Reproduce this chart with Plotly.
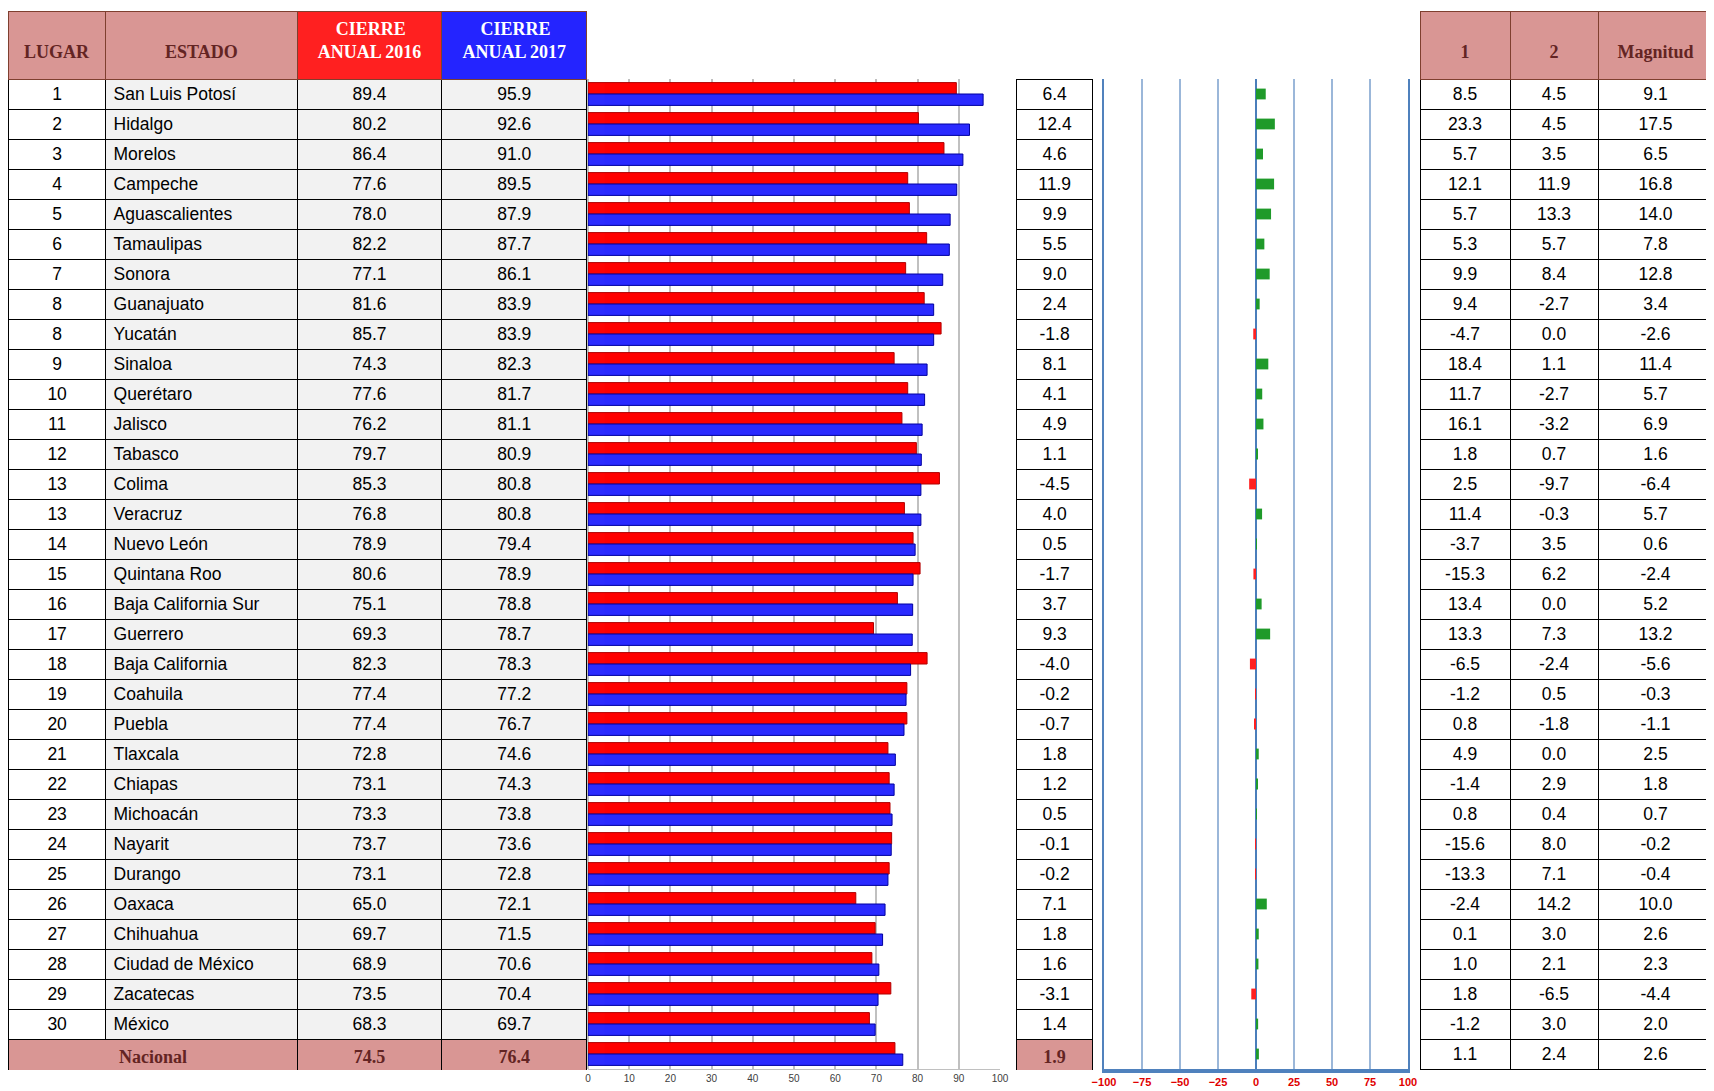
import plotly.graph_objects as go

# datos de la tabla (32 estados)
lugar = ["1", "2", "3", "4", "5", "6", "7", "8", "8", "9", "10", "11", "12", "13", "13", "14",
         "15", "16", "17", "18", "19", "20", "21", "22", "23", "24", "25", "26", "27", "28", "29", "30"]
estado = ["San Luis Potosí", "Hidalgo", "Morelos", "Campeche", "Aguascalientes", "Tamaulipas", "Sonora",
          "Guanajuato", "Yucatán", "Sinaloa", "Querétaro", "Jalisco", "Tabasco", "Colima", "Veracruz",
          "Nuevo León", "Quintana Roo", "Baja California Sur", "Guerrero", "Baja California", "Coahuila",
          "Puebla", "Tlaxcala", "Chiapas", "Michoacán", "Nayarit", "Durango", "Oaxaca", "Chihuahua",
          "Ciudad de México", "Zacatecas", "México"]
cierre_2016 = [89.4, 80.2, 86.4, 77.6, 78.0, 82.2, 77.1, 81.6, 85.7, 74.3, 77.6, 76.2, 79.7, 85.3, 76.8, 78.9,
               80.6, 75.1, 69.3, 82.3, 77.4, 77.4, 72.8, 73.1, 73.3, 73.7, 73.1, 65.0, 69.7, 68.9, 73.5, 68.3]
cierre_2017 = [95.9, 92.6, 91.0, 89.5, 87.9, 87.7, 86.1, 83.9, 83.9, 82.3, 81.7, 81.1, 80.9, 80.8, 80.8, 79.4,
               78.9, 78.8, 78.7, 78.3, 77.2, 76.7, 74.6, 74.3, 73.8, 73.6, 72.8, 72.1, 71.5, 70.6, 70.4, 69.7]
diferencia = [6.4, 12.4, 4.6, 11.9, 9.9, 5.5, 9.0, 2.4, -1.8, 8.1, 4.1, 4.9, 1.1, -4.5, 4.0, 0.5,
              -1.7, 3.7, 9.3, -4.0, -0.2, -0.7, 1.8, 1.2, 0.5, -0.1, -0.2, 7.1, 1.8, 1.6, -3.1, 1.4]
# renglon nacional
nacional = "Nacional"
nac_2016, nac_2017, nac_dif = 74.5, 76.4, 1.9
# tabla derecha (incluye renglon nacional al final)
col_1 = [8.5, 23.3, 5.7, 12.1, 5.7, 5.3, 9.9, 9.4, -4.7, 18.4, 11.7, 16.1, 1.8, 2.5, 11.4, -3.7,
         -15.3, 13.4, 13.3, -6.5, -1.2, 0.8, 4.9, -1.4, 0.8, -15.6, -13.3, -2.4, 0.1, 1.0, 1.8, -1.2, 1.1]
col_2 = [4.5, 4.5, 3.5, 11.9, 13.3, 5.7, 8.4, -2.7, 0.0, 1.1, -2.7, -3.2, 0.7, -9.7, -0.3, 3.5,
         6.2, 0.0, 7.3, -2.4, 0.5, -1.8, 0.0, 2.9, 0.4, 8.0, 7.1, 14.2, 3.0, 2.1, -6.5, 3.0, 2.4]
magnitud = [9.1, 17.5, 6.5, 16.8, 14.0, 7.8, 12.8, 3.4, -2.6, 11.4, 5.7, 6.9, 1.6, -6.4, 5.7, 0.6,
            -2.4, 5.2, 13.2, -5.6, -0.3, -1.1, 2.5, 1.8, 0.7, -0.2, -0.4, 10.0, 2.6, 2.3, -4.4, 2.0, 2.6]

W, H = 1714, 1091
OFF = 8  # margen del body en la pagina
n = len(estado)
rosa = "#d99694"
cafe = "#632423"
rojo = "#ff2020"
azul = "#2424ff"
gris = "#f2f2f2"
serif = "Liberation Serif"
sans = "Liberation Sans"
sp = "\u00a0<br>"
ind = "\u00a0" * 4  # para centrar "CIERRE" sobre "ANUAL 20xx"

def fmt(v):
    return ["{:.1f}".format(x) for x in v]

def xdom(left, right):
    return [max(0, (left - OFF) / W), min(1, (right - OFF) / W)]

def ydom(top, bottom):
    return [max(0, 1 - (bottom - OFF) / H), min(1, 1 - (top - OFF) / H)]

top_hdr, hdr_h, row_h = 11, 68, 30
top_rows = top_hdr + hdr_h
top_nac = top_rows + row_h * n
bottom_rows = top_nac + row_h

fig = go.Figure()

# tabla izquierda
fig.add_trace(go.Table(
    domain=dict(x=xdom(8.7, 587), y=ydom(top_hdr, top_nac + 2)),
    columnwidth=[97, 192, 145, 145],
    header=dict(values=[sp + "<b>LUGAR</b>", sp + "<b>ESTADO</b>",
                        ind + "<b>CIERRE</b><br><b>ANUAL 2016</b>", ind + "<b>CIERRE</b><br><b>ANUAL 2017</b>"],
                height=hdr_h, fill_color=[rosa, rosa, rojo, azul], line_color="#7f3f2f",
                font=dict(family=serif, size=18, color=[cafe, cafe, "white", "white"]), align="center"),
    cells=dict(values=[lugar, estado, fmt(cierre_2016), fmt(cierre_2017)], height=row_h,
               fill_color=["white", gris, gris, gris], line_color="black",
               font=dict(family=sans, size=17.5, color="black"),
               align=["center", "left", "center", "center"]),
))
# renglon nacional
fig.add_trace(go.Table(
    domain=dict(x=xdom(8.7, 587), y=ydom(top_nac, bottom_rows + 2)),
    columnwidth=[289, 145, 145],
    header=dict(values=["<b>" + nacional + "</b>", "<b>{:.1f}</b>".format(nac_2016),
                        "<b>{:.1f}</b>".format(nac_2017)],
                height=row_h, fill_color=rosa, line_color="black",
                font=dict(family=serif, size=18, color=cafe), align="center"),
))

# columna de diferencias
fig.add_trace(go.Table(
    domain=dict(x=xdom(1016.6, 1093), y=ydom(top_hdr, top_nac + 2)),
    header=dict(values=[""], height=hdr_h, fill_color="white", line_width=0),
    cells=dict(values=[fmt(diferencia)], height=row_h, fill_color="white", line_color="black",
               font=dict(family=sans, size=17.5, color="black"), align="center"),
))
fig.add_trace(go.Table(
    domain=dict(x=xdom(1016.6, 1093), y=ydom(top_nac, bottom_rows + 2)),
    header=dict(values=["<b>{:.1f}</b>".format(nac_dif)], height=row_h, fill_color=rosa, line_color="black",
                font=dict(family=serif, size=18, color=cafe), align="center"),
))

# tabla derecha
fig.add_trace(go.Table(
    domain=dict(x=xdom(1420, 1714), y=ydom(top_hdr, bottom_rows + 2)),
    columnwidth=[90, 88, 115],
    header=dict(values=[sp + "<b>1</b>", sp + "<b>2</b>", sp + "<b>Magnitud</b>"], height=hdr_h, fill_color=rosa,
                line_color="#7f3f2f", font=dict(family=serif, size=18, color=cafe), align="center"),
    cells=dict(values=[fmt(col_1), fmt(col_2), fmt(magnitud)], height=row_h,
               fill_color="white", line_color="black",
               font=dict(family=sans, size=17.5, color="black"), align="center"),
))

cats = estado + [nacional]
v2016 = cierre_2016 + [nac_2016]
v2017 = cierre_2017 + [nac_2017]
vdif = diferencia + [nac_dif]

# barras 2016 / 2017
fig.add_trace(go.Bar(y=cats, x=v2016, orientation="h", name="Cierre anual 2016",
                     marker=dict(color="#ff0000", line=dict(color="#b00000", width=1)),
                     xaxis="x", yaxis="y"))
fig.add_trace(go.Bar(y=cats, x=v2017, orientation="h", name="Cierre anual 2017",
                     marker=dict(color="#2a2aff", line=dict(color="#0000a0", width=1)),
                     xaxis="x", yaxis="y"))

# barras de diferencia
fig.add_trace(go.Bar(y=cats, x=vdif, orientation="h", width=0.36,
                     marker=dict(color=["#1f9a2a" if d >= 0 else "#ff2020" for d in vdif], line_width=0),
                     xaxis="x2", yaxis="y2"))

fig.update_layout(
    width=W, height=H, margin=dict(l=0, r=0, t=0, b=0, autoexpand=False),
    paper_bgcolor="white", plot_bgcolor="white", showlegend=False,
    barmode="group", bargap=0.24, bargroupgap=0,
    xaxis=dict(domain=xdom(588, 1000), range=[0, 100], dtick=10, showgrid=True,
               gridcolor="#c0c0c0", gridwidth=2, zeroline=True, zerolinecolor="#c0c0c0", zerolinewidth=2,
               showline=True, linecolor="#c0c0c0", linewidth=1, ticks="",
               tickfont=dict(family=sans, size=10, color="#404040")),
    yaxis=dict(domain=ydom(top_rows, bottom_rows), autorange="reversed", showticklabels=False,
               showgrid=False, ticks="", anchor="x"),
    xaxis2=dict(domain=xdom(1104, 1408), range=[-100, 100], dtick=25, showgrid=True,
                gridcolor="#9bb7d9", gridwidth=2, zeroline=True, zerolinecolor="#4a7ebb", zerolinewidth=2,
                showline=True, linecolor="#4f81bd", linewidth=4, ticks="", anchor="y2",
                tickfont=dict(family=sans, size=11, color="#e00000", weight="bold")),
    yaxis2=dict(domain=ydom(top_rows, bottom_rows), autorange="reversed", showticklabels=False,
                showgrid=False, ticks="", anchor="x2", showline=True, linecolor="#4f81bd", linewidth=2,
                mirror=True),
)

fig.write_html("out.html")
